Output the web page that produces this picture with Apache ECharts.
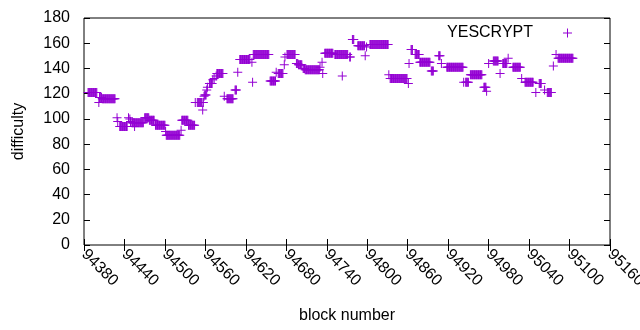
<!DOCTYPE html>
<html>
<head>
<meta charset="utf-8">
<script src="https://cdn.jsdelivr.net/npm/echarts@6/dist/echarts.min.js"></script>
<style>
  html, body { margin: 0; padding: 0; background: #fff; }
  #chart { width: 640px; height: 330px; }
</style>
</head>
<body>
<div id="chart"></div>
<script>
// runs of consecutive blocks sharing one difficulty
var runStart = [94386, 94403, 94407, 94433, 94451, 94470, 94477, 94486, 94502, 94525, 94535, 94548, 94559, 94566, 94577, 94592, 94604, 94611, 94631, 94656, 94668, 94681, 94696, 94698, 94705, 94708, 94737, 94752, 94774, 94778, 94786, 94804, 94834, 94865, 94871, 94878, 94895, 94906, 94918, 94946, 94953, 94973, 94987, 95001, 95016, 95034, 95055, 95067, 95083];
var runEnd   = [94399, 94406, 94426, 94444, 94468, 94476, 94484, 94500, 94522, 94534, 94544, 94555, 94561, 94570, 94586, 94601, 94606, 94626, 94654, 94664, 94675, 94693, 94697, 94703, 94707, 94729, 94749, 94771, 94775, 94780, 94796, 94831, 94859, 94867, 94877, 94893, 94898, 94908, 94942, 94950, 94970, 94976, 94994, 95007, 95027, 95046, 95058, 95073, 95105];
var runValue = [121, 117, 116, 94, 97, 101, 99, 95, 87, 99, 95, 113, 119, 128, 136, 116, 123, 147, 151, 130, 136, 151, 144, 143, 140, 139, 152, 151, 149, 163, 158, 159, 132, 155, 151, 145, 138, 150, 141, 129, 135, 125, 146, 144, 141, 129, 128, 121, 148];

// single blocks off the runs
var pointBlock = [94402, 94429, 94430, 94446, 94448, 94449, 94455, 94501, 94524, 94545, 94556, 94557, 94558, 94562, 94563, 94571, 94573, 94576, 94588, 94608, 94629, 94630, 94665, 94677, 94678, 94695, 94730, 94733, 94734, 94763, 94797, 94799, 94832, 94861, 94862, 94910, 94943, 94977, 94980, 94997, 95009, 95029, 95050, 95063, 95076, 95080];
var pointValue = [113, 101, 98, 101, 100, 98, 94, 90, 91, 113, 107, 113, 118, 123, 125, 131, 132, 134, 118, 137, 145, 129, 137, 143, 149, 144, 141, 145, 136, 134, 150, 157, 135, 128, 144, 144, 129, 122, 144, 136, 148, 132, 121, 123, 142, 151];

var xMin = 94380, xMax = 95160, xStep = 60;
var yMin = 0, yMax = 180, yStep = 20;

var data = [];
for (var i = 0; i < runStart.length; i++) {
    for (var b = runStart[i]; b <= runEnd[i]; b++) {
        data.push([b, runValue[i]]);
    }
}
for (var j = 0; j < pointBlock.length; j++) {
    data.push([pointBlock[j], pointValue[j]]);
}

var plus = 'path://M0,4H9V5H0Z M4,0H5V9H4Z';
var font = 'Liberation Sans';
var fs = 16;

var chart = echarts.init(document.getElementById('chart'));
var option = {
    animation: false,
    grid: {
        left: 84, right: 30, top: 18, bottom: 85,
        outerBoundsMode: 'none',
        containLabel: false,
        show: true, borderColor: '#000', borderWidth: 1
    },
    legend: {
        right: 63, top: 20,
        align: 'right',
        itemWidth: 9, itemHeight: 9,
        data: [{ name: 'YESCRYPT', icon: plus }],
        textStyle: { fontFamily: font, fontSize: fs, color: '#000', padding: [0, 25, 0, 0] }
    },
    xAxis: [{
        type: 'value',
        min: xMin, max: xMax, interval: xStep,
        name: 'block number',
        nameLocation: 'middle',
        nameGap: 63,
        nameTextStyle: { fontFamily: font, fontSize: fs, color: '#000' },
        axisLine: { show: false },
        axisTick: { inside: true, length: 6, lineStyle: { color: '#000' } },
        axisLabel: {
            rotate: -45, margin: 7, fontFamily: font, fontSize: fs, color: '#000',
            formatter: function (v) { return String(v); }
        },
        splitLine: { show: false }
    }, {
        type: 'value', position: 'top',
        min: xMin, max: xMax, interval: xStep,
        axisLine: { show: false },
        axisTick: { inside: true, length: 6, lineStyle: { color: '#000' } },
        axisLabel: { show: false },
        splitLine: { show: false }
    }],
    yAxis: [{
        type: 'value',
        min: yMin, max: yMax, interval: yStep,
        name: 'difficulty',
        nameLocation: 'middle',
        nameGap: 57,
        nameRotate: 90,
        nameTextStyle: { fontFamily: font, fontSize: fs, color: '#000' },
        axisLine: { show: false },
        axisTick: { inside: true, length: 6, lineStyle: { color: '#000' } },
        axisLabel: { margin: 14, fontFamily: font, fontSize: fs, color: '#000' },
        splitLine: { show: false }
    }, {
        type: 'value', position: 'right',
        min: yMin, max: yMax, interval: yStep,
        axisLine: { show: false },
        axisTick: { inside: true, length: 6, lineStyle: { color: '#000' } },
        axisLabel: { show: false },
        splitLine: { show: false }
    }],
    series: [{
        name: 'YESCRYPT',
        type: 'scatter',
        symbol: plus,
        symbolSize: 9,
        itemStyle: { color: '#9400d3', opacity: 1 },
        data: data
    }]
};
chart.setOption(option);
</script>
</body>
</html>
